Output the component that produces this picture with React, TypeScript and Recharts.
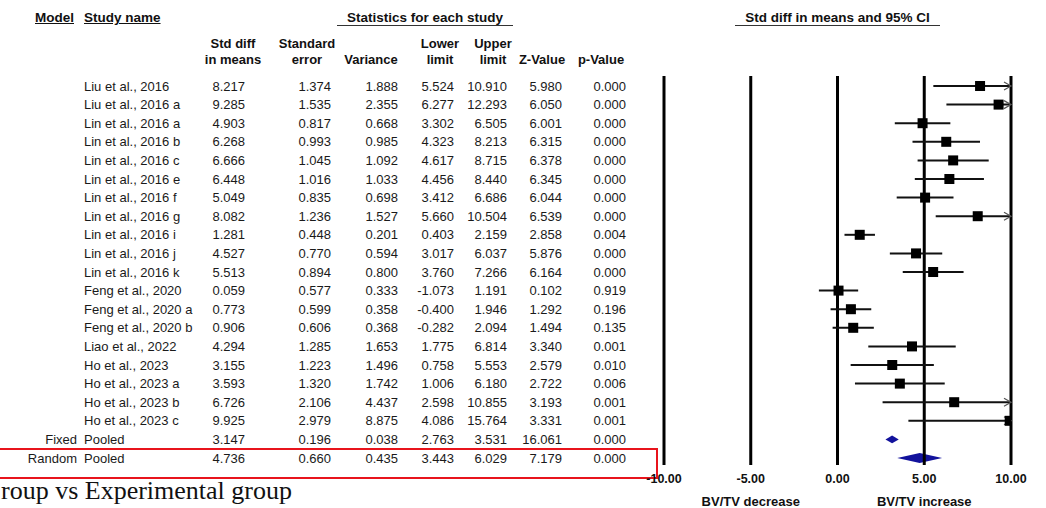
import React from "react";
import {
  ScatterChart,
  Scatter,
  XAxis,
  YAxis,
  ReferenceLine,
  ReferenceArea
} from "recharts";

const models = ["", "", "", "", "", "", "", "", "", "", "", "", "", "", "", "", "", "", "", "Fixed", "Random"];
const studyNames = [
  "Liu et al., 2016", "Liu et al., 2016 a", "Lin et al., 2016 a", "Lin et al., 2016 b", "Lin et al., 2016 c",
  "Lin et al., 2016 e", "Lin et al., 2016 f", "Lin et al., 2016 g", "Lin et al., 2016 i", "Lin et al., 2016 j",
  "Lin et al., 2016 k", "Feng et al., 2020", "Feng et al., 2020 a", "Feng et al., 2020 b", "Liao et al., 2022",
  "Ho et al., 2023", "Ho et al., 2023 a", "Ho et al., 2023 b", "Ho et al., 2023 c", "Pooled", "Pooled"
];
const stdDiff = [8.217, 9.285, 4.903, 6.268, 6.666, 6.448, 5.049, 8.082, 1.281, 4.527, 5.513, 0.059, 0.773, 0.906, 4.294, 3.155, 3.593, 6.726, 9.925, 3.147, 4.736];
const stdErr = [1.374, 1.535, 0.817, 0.993, 1.045, 1.016, 0.835, 1.236, 0.448, 0.77, 0.894, 0.577, 0.599, 0.606, 1.285, 1.223, 1.32, 2.106, 2.979, 0.196, 0.66];
const variance = [1.888, 2.355, 0.668, 0.985, 1.092, 1.033, 0.698, 1.527, 0.201, 0.594, 0.8, 0.333, 0.358, 0.368, 1.653, 1.496, 1.742, 4.437, 8.875, 0.038, 0.435];
const lowerLimit = [5.524, 6.277, 3.302, 4.323, 4.617, 4.456, 3.412, 5.66, 0.403, 3.017, 3.76, -1.073, -0.4, -0.282, 1.775, 0.758, 1.006, 2.598, 4.086, 2.763, 3.443];
const upperLimit = [10.91, 12.293, 6.505, 8.213, 8.715, 8.44, 6.686, 10.504, 2.159, 6.037, 7.266, 1.191, 1.946, 2.094, 6.814, 5.553, 6.18, 10.855, 15.764, 3.531, 6.029];
const zValue = [5.98, 6.05, 6.001, 6.315, 6.378, 6.345, 6.044, 6.539, 2.858, 5.876, 6.164, 0.102, 1.292, 1.494, 3.34, 2.579, 2.722, 3.193, 3.331, 16.061, 7.179];
const pValue = [0, 0, 0, 0, 0, 0, 0, 0, 0.004, 0, 0, 0.919, 0.196, 0.135, 0.001, 0.01, 0.006, 0.001, 0.001, 0, 0];

const xTicks = [-10, -5, 0, 5, 10];
const sideLabels: Record<number, string> = { [-5]: "BV/TV decrease", 5: "BV/TV increase" };

const X_MIN = -10;
const X_MAX = 10;
const FONT = "'Liberation Sans', Arial, sans-serif";
const BLUE = "#12129c";

const studyCount = 19;
const rows = studyNames.map((_, i) => i);
const points = rows.slice(0, studyCount).map((i) => ({ x: stdDiff[i], y: i }));

// right edges of the numeric columns
const columns = [
  { vals: stdDiff, right: 245 },
  { vals: stdErr, right: 331 },
  { vals: variance, right: 398 },
  { vals: lowerLimit, right: 454 },
  { vals: upperLimit, right: 507 },
  { vals: zValue, right: 562 },
  { vals: pValue, right: 626 }
];

const RowTick = (props: any) => {
  const { y, payload } = props;
  const i = payload.value;
  if (i < 0 || i >= studyNames.length) return null;
  const ty = y + 4.5;
  return (
    <g fontFamily={FONT} fontSize={13} fill="#1a1a1a">
      {models[i] && (
        <text x={77} y={ty} textAnchor="end" fill="#1a1a1a">{models[i]}</text>
      )}
      <text x={84} y={ty} fill="#1a1a1a">{studyNames[i]}</text>
      {columns.map((c, k) => (
        <text key={k} x={c.right} y={ty} textAnchor="end" fill="#1a1a1a">{c.vals[i].toFixed(3)}</text>
      ))}
    </g>
  );
};

const AxisTick = (props: any) => {
  const { x, y, payload } = props;
  const v = payload.value;
  return (
    <g fontFamily={FONT} fontWeight="bold" fill="#111">
      <text x={x} y={y + 10} textAnchor="middle" fontSize={12.5} fill="#111">{v.toFixed(2)}</text>
      {sideLabels[v] && (
        <text x={x} y={y + 33} textAnchor="middle" fontSize={13} fill="#111">{sideLabels[v]}</text>
      )}
    </g>
  );
};

const ciShape = (clipped: boolean) => (props: any) => {
  const { x1, y1, x2, y2 } = props;
  return (
    <g>
      <line x1={x1} y1={y1} x2={x2} y2={y2} stroke="#111" strokeWidth={2} />
      {clipped && (
        <polyline points={`${x2 - 7},${y2 - 4} ${x2},${y2} ${x2 - 7},${y2 + 4}`} fill="none" stroke="#555" strokeWidth={1.2} />
      )}
    </g>
  );
};

const diamondShape = (props: any) => {
  const { x, y, width, height } = props;
  const cy = y + height / 2;
  return (
    <polygon
      points={`${x},${cy} ${x + width / 2},${y} ${x + width},${cy} ${x + width / 2},${y + height}`}
      fill={BLUE}
    />
  );
};

const squareShape = (props: any) => {
  const { cx, cy } = props;
  return <rect x={cx - 5} y={cy - 5} width={10} height={10} fill="#000" />;
};

const headStyle: React.CSSProperties = {
  position: "absolute",
  fontFamily: FONT,
  fontWeight: "bold",
  fontSize: 13,
  color: "#111",
  lineHeight: "16px",
  whiteSpace: "nowrap"
};

export default function App() {
  return (
    <div style={{ position: "absolute", left: 0, top: 0, width: 1046, height: 508, background: "#fff", overflow: "hidden" }}>
      <div style={{ ...headStyle, left: 35, top: 10, fontSize: 13.5, textDecoration: "underline" }}>Model</div>
      <div style={{ ...headStyle, left: 84, top: 10, fontSize: 13.5, textDecoration: "underline" }}>Study name</div>
      <div style={{ ...headStyle, left: 337, top: 10, width: 176, fontSize: 13.5, textAlign: "center", borderBottom: "1px solid #333", lineHeight: "15px" }}>
        Statistics for each study
      </div>
      <div style={{ ...headStyle, left: 735, top: 10, width: 205, fontSize: 13.5, textAlign: "center", borderBottom: "1px solid #333", lineHeight: "15px" }}>
        Std diff in means and 95% CI
      </div>
      {[
        { c: 233, t: ["Std diff", "in means"] },
        { c: 307, t: ["Standard", "error"] },
        { c: 371, t: ["", "Variance"] },
        { c: 440, t: ["Lower", "limit"] },
        { c: 493, t: ["Upper", "limit"] },
        { c: 542, t: ["", "Z-Value"] },
        { c: 601, t: ["", "p-Value"] }
      ].map((h, k) => (
        <div key={k} style={{ ...headStyle, left: h.c - 40, top: 36, width: 80, textAlign: "center" }}>
          <div>{h.t[0] || "\u00a0"}</div>
          <div>{h.t[1]}</div>
        </div>
      ))}

      <div style={{ position: "absolute", left: -5, top: 448, width: 659, height: 27, border: "2px solid #e8141c" }} />

      <div style={{ position: "absolute", left: 1, top: 476, fontFamily: "'Liberation Serif', 'Times New Roman', serif", fontSize: 26, color: "#111", whiteSpace: "nowrap" }}>
        roup vs Experimental group
      </div>

      <div style={{ position: "absolute", left: 0, top: 0 }}>
        <ScatterChart width={1046} height={508} margin={{ top: 76, right: 35, bottom: 0, left: 663 }}>
          <XAxis
            type="number"
            dataKey="x"
            domain={[X_MIN, X_MAX]}
            ticks={xTicks}
            interval={0}
            axisLine={false}
            tickLine={false}
            height={43}
            tick={<AxisTick />}
            allowDataOverflow
          />
          <YAxis
            type="number"
            dataKey="y"
            domain={[-0.538, 20.376]}
            reversed
            ticks={rows}
            interval={0}
            width={1}
            axisLine={false}
            tickLine={false}
            tick={<RowTick />}
            allowDataOverflow
          />
          {xTicks.map((v) => (
            <ReferenceLine key={`v${v}`} x={v} stroke="#000" strokeWidth={3} />
          ))}
          {rows.slice(0, studyCount).map((i) => (
            <ReferenceLine
              key={`ci${i}`}
              segment={[
                { x: Math.max(lowerLimit[i], X_MIN), y: i },
                { x: Math.min(upperLimit[i], X_MAX), y: i }
              ]}
              shape={ciShape(upperLimit[i] > X_MAX)}
            />
          ))}
          <ReferenceArea x1={lowerLimit[19]} x2={upperLimit[19]} y1={19 - 0.21} y2={19 + 0.21} shape={diamondShape} />
          <ReferenceArea x1={lowerLimit[20]} x2={upperLimit[20]} y1={20 - 0.27} y2={20 + 0.27} shape={diamondShape} />
          <Scatter data={points} shape={squareShape} isAnimationActive={false} />
        </ScatterChart>
      </div>
    </div>
  );
}
